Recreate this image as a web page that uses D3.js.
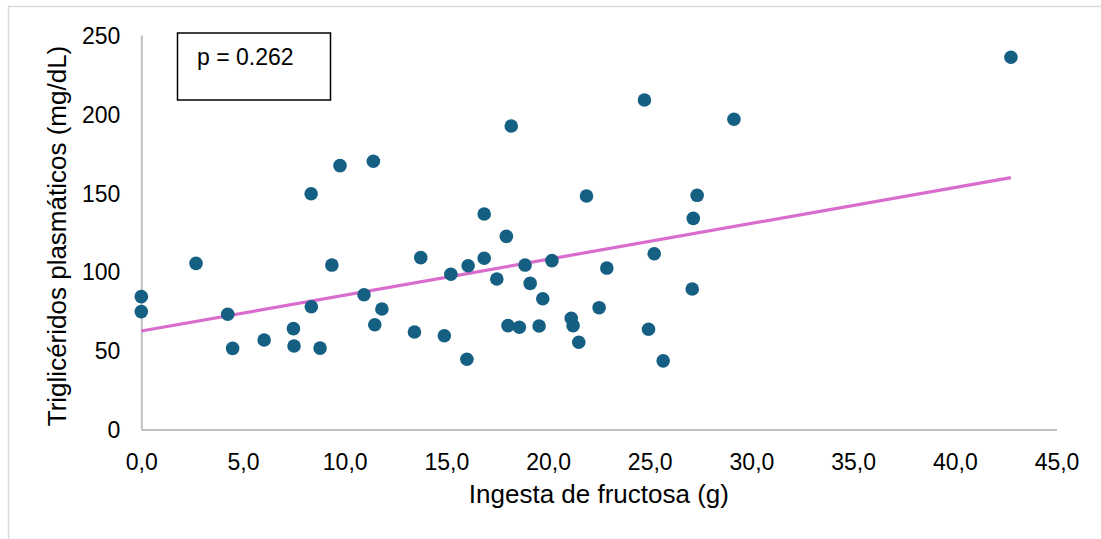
<!DOCTYPE html>
<html>
<head>
<meta charset="utf-8">
<script src="https://cdn.jsdelivr.net/npm/d3@7"></script>
<style>
  body { margin: 0; background: #fff; }
  svg { display: block; font-family: "Liberation Sans", Arial, sans-serif; }
</style>
</head>
<body>
<svg id="chart" width="1101" height="539"></svg>
<script>
// fructose intake (g) and plasma triglycerides (mg/dL)
var fructosa = [
  0.0, 0.0, 2.69, 4.25, 4.49, 6.04, 7.48, 7.51, 8.35, 8.36, 8.79, 9.37, 9.77,
  10.95, 11.41, 11.48, 11.83, 13.43, 13.74, 14.90, 15.22, 16.01, 16.07, 16.86,
  16.86, 17.48, 17.95, 18.03, 18.19, 18.59, 18.87, 19.12, 19.56, 19.74, 20.19,
  21.14, 21.23, 21.51, 21.89, 22.51, 22.89, 24.74, 24.94, 25.22, 25.66, 27.09,
  27.14, 27.33, 29.14, 42.76
];
var trigliceridos = [
  84.2, 74.7, 105.3, 73.0, 51.4, 56.7, 63.9, 52.9, 149.4, 77.8, 51.6, 104.2, 167.2,
  85.4, 170.0, 66.4, 76.4, 61.8, 108.9, 59.4, 98.4, 44.5, 103.8, 136.6,
  108.5, 95.4, 122.4, 65.8, 192.3, 64.8, 104.2, 92.6, 65.6, 82.9, 107.0,
  70.5, 65.8, 55.3, 148.0, 77.2, 102.3, 208.8, 63.5, 111.4, 43.5, 89.0,
  133.8, 148.4, 196.6, 235.9
];
// linear trend line end points
var tendenciaX = [0, 42.76];
var tendenciaY = [62.4, 159.6];

var xTicks = [0, 5, 10, 15, 20, 25, 30, 35, 40, 45];
var yTicks = [0, 50, 100, 150, 200, 250];
var pTexto = "p = 0.262";

var svg = d3.select("#chart");

// outer chart frame
svg.append("rect")
  .attr("x", 8.5).attr("y", 6.5)
  .attr("width", 1120).attr("height", 560)
  .attr("fill", "none").attr("stroke", "#d9d9d9").attr("stroke-width", 1.5);

var x = d3.scaleLinear().domain([0, 45]).range([141.3, 1056.5]);
var y = d3.scaleLinear().domain([0, 250]).range([429.5, 35]);

var fmt = function(d){ return d3.format(".1f")(d).replace(".", ","); };

// axes (lines only, no ticks)
var xAxis = svg.append("g")
  .attr("transform", "translate(0," + y(0) + ")")
  .call(d3.axisBottom(x).tickValues(xTicks).tickFormat(fmt).tickSize(0).tickPadding(24));
var yAxis = svg.append("g")
  .attr("transform", "translate(" + x(0) + ",0)")
  .call(d3.axisLeft(y).tickValues(yTicks).tickSize(0).tickPadding(21));

[xAxis, yAxis].forEach(function(g){
  g.select(".domain").attr("stroke", "#bfbfbf").attr("stroke-width", 2);
  g.selectAll("text").attr("font-size", 23).attr("fill", "#000")
    .attr("font-family", "Liberation Sans, Arial, sans-serif");
});
xAxis.selectAll("text").attr("dy", "0.71em");
yAxis.selectAll("text").attr("dy", "0.36em");

// trend line
svg.append("line")
  .attr("x1", x(tendenciaX[0])).attr("y1", y(tendenciaY[0]))
  .attr("x2", x(tendenciaX[1])).attr("y2", y(tendenciaY[1]))
  .attr("stroke", "#d86dcd").attr("stroke-width", 3.2);

// points
svg.append("g").selectAll("circle")
  .data(fructosa)
  .join("circle")
  .attr("cx", function(d){ return x(d); })
  .attr("cy", function(d, i){ return y(trigliceridos[i]); })
  .attr("r", 6.8)
  .attr("fill", "#156082");

// p value box
svg.append("rect")
  .attr("x", 177.5).attr("y", 33)
  .attr("width", 153).attr("height", 67)
  .attr("fill", "#fff").attr("stroke", "#000").attr("stroke-width", 1.5);
svg.append("text")
  .attr("x", 197).attr("y", 65)
  .attr("font-size", 23)
  .text(pTexto);

// axis titles
svg.append("text")
  .attr("x", (x(0) + x(45)) / 2).attr("y", 503)
  .attr("text-anchor", "middle")
  .attr("font-size", 26)
  .text("Ingesta de fructosa (g)");
svg.append("text")
  .attr("transform", "translate(66,236) rotate(-90)")
  .attr("text-anchor", "middle")
  .attr("font-size", 26)
  .text("Triglicéridos plasmáticos (mg/dL)");
</script>
</body>
</html>
